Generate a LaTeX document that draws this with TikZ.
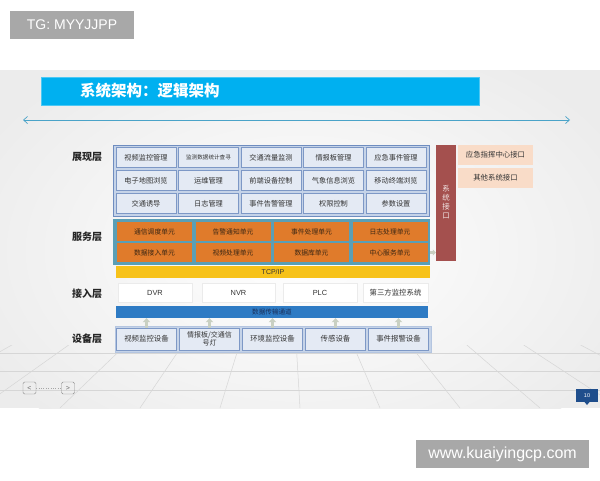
\documentclass[tikz,border=0pt]{standalone}
\usepackage{fontspec}
\setmainfont{Noto Sans CJK SC}
\newfontfamily\lat{Liberation Sans}
\usetikzlibrary{arrows.meta}
\definecolor{wmgray}{HTML}{A8A8A8}
\definecolor{slidebg}{HTML}{ECECEC}
\definecolor{titleblue}{HTML}{00B0F0}
\definecolor{linkblue}{HTML}{4AA3C8}
\definecolor{pframe}{HTML}{C5D3E8}
\definecolor{pframeb}{HTML}{6F8DC0}
\definecolor{pcellf}{HTML}{E4EAF4}
\definecolor{pcellb}{HTML}{7D98C6}
\definecolor{sframe}{HTML}{5A9FB5}
\definecolor{orangec}{HTML}{E07B2B}
\definecolor{stxt}{HTML}{3A2614}
\definecolor{tcpc}{HTML}{F7C21A}
\definecolor{dbar}{HTML}{2E7BC4}
\definecolor{dtxt}{HTML}{1A2F5A}
\definecolor{arrowc}{HTML}{C9D0C2}
\definecolor{redbar}{HTML}{A4504E}
\definecolor{peach}{HTML}{F9DCC8}
\definecolor{txtc}{HTML}{333333}
\definecolor{gridc}{HTML}{D6D6D6}
\definecolor{navy}{HTML}{1F4E8C}
\begin{document}
\begin{tikzpicture}[x=1pt,y=-1pt,
  pcell/.style={draw=pcellb, fill=pcellf, line width=0.7pt, minimum width=60pt, minimum height=19.5pt, inner sep=0pt, font=\fontsize{7.2}{8.5}\selectfont, text=txtc},
  scell/.style={fill=orangec, minimum width=75pt, minimum height=18.5pt, inner sep=0pt, font=\fontsize{6.8}{8}\selectfont, text=stxt},
  acell/.style={fill=white, draw=black!8, line width=0.4pt, minimum height=19pt, inner sep=0pt, font=\fontsize{7.4}{8.5}\selectfont, text=txtc},
  dcell/.style={draw=pcellb, fill=pcellf, line width=0.7pt, minimum width=60pt, minimum height=22pt, inner sep=0pt, font=\fontsize{7.4}{8.5}\selectfont, text=txtc, align=center},
  layer/.style={font=\fontsize{10}{12}\selectfont\bfseries, text=black!85},
  lightarrow/.style={draw=arrowc, line width=3.2pt, -{Triangle[width=7.5pt,length=4pt]}},
  icell/.style={fill=peach, minimum width=75pt, minimum height=20pt, inner sep=0pt, font=\fontsize{7.4}{8.5}\selectfont, text=txtc},
  wmbox/.style={fill=wmgray, text=white, inner sep=0pt},
  navbox/.style={draw=black!45, rounded corners=1.5pt, minimum width=13pt, minimum height=12pt, inner sep=0pt, font=\lat\fontsize{7}{8}\selectfont, text=black!60}
]
\useasboundingbox (0,0) rectangle (600,480);
\fill[white] (0,0) rectangle (600,480);
% slide background
\begin{scope}
  \clip (0,70) rectangle (600,408);
  \fill[slidebg] (0,70) rectangle (600,408);
  \shade[inner color=white, outer color=slidebg] (300,250) ellipse (360 and 230);
\end{scope}
% floor grid
\begin{scope}
  \clip (0,345) rectangle (600,408);
  \foreach \b in {-900,-820,...,1500} \draw[gridc,line width=0.5pt] (287,190) -- (\b,408);
  \foreach \yy in {353,371,390} \draw[gridc,line width=0.6pt] (0,\yy) -- (600,\yy);
\end{scope}
% TG watermark
\node[wmbox, minimum width=124pt, minimum height=28pt, font=\lat\fontsize{14}{16}\selectfont] (tg) at (72,25) {TG: MYYJJPP};
% title bar
\node[fill=titleblue, draw=titleblue!70!white, line width=0.5pt, minimum width=438pt, minimum height=28pt, inner sep=0pt] (title) at (260,91) {};
\node[anchor=west, text=white, font=\fontsize{15.5}{17}\selectfont\bfseries, inner sep=0pt] (titletext) at (80,91) {系统架构：逻辑架构};
% double arrow line
\coordinate (la) at (23,120);
\coordinate (lb) at (570,120);
\draw[linkblue, line width=0.7pt, {Straight Barb[length=4pt,width=7pt]}-{Straight Barb[length=4pt,width=7pt]}] (la) -- (lb);
% layer labels
\node[layer] (L1) at (87,157) {展现层};
\node[layer] (L2) at (87,237) {服务层};
\node[layer] (L3) at (87,294) {接入层};
\node[layer] (L4) at (87,339) {设备层};
% presentation layer
\node[fill=pframe, draw=pframeb, line width=0.8pt, minimum width=316pt, minimum height=71pt, inner sep=0pt] (pf) at (271,180.5) {};
\node[pcell] (p11) at (146,157.5) {视频监控管理};
\node[pcell, font=\fontsize{5.6}{7}\selectfont] (p12) at (208.5,157.5) {监测数据统计查寻};
\node[pcell] (p13) at (271,157.5) {交通流量监测};
\node[pcell] (p14) at (333.5,157.5) {情报板管理};
\node[pcell] (p15) at (396,157.5) {应急事件管理};
\node[pcell] (p21) at (146,180.5) {电子地图浏览};
\node[pcell] (p22) at (208.5,180.5) {运维管理};
\node[pcell] (p23) at (271,180.5) {前端设备控制};
\node[pcell] (p24) at (333.5,180.5) {气象信息浏览};
\node[pcell] (p25) at (396,180.5) {移动终端浏览};
\node[pcell] (p31) at (146,203.5) {交通诱导};
\node[pcell] (p32) at (208.5,203.5) {日志管理};
\node[pcell] (p33) at (271,203.5) {事件告警管理};
\node[pcell] (p34) at (333.5,203.5) {权限控制};
\node[pcell] (p35) at (396,203.5) {参数设置};
% service layer
\node[fill=sframe, minimum width=317pt, minimum height=46pt, inner sep=0pt] (sf) at (271.5,242) {};
\node[scell] (s11) at (154.5,231.5) {通信调度单元};
\node[scell] (s12) at (233,231.5) {告警通知单元};
\node[scell] (s13) at (311.5,231.5) {事件处理单元};
\node[scell] (s14) at (390,231.5) {日志处理单元};
\node[scell] (s21) at (154.5,252.5) {数据接入单元};
\node[scell] (s22) at (233,252.5) {视频处理单元};
\node[scell] (s23) at (311.5,252.5) {数据库单元};
\node[scell] (s24) at (390,252.5) {中心服务单元};
% TCP/IP
\node[fill=tcpc, minimum width=314pt, minimum height=12pt, inner sep=0pt, font=\lat\fontsize{7}{8}\selectfont, text=txtc] (tcp) at (273,272) {TCP/IP};
% access layer
\node[acell, minimum width=74pt, font=\lat\fontsize{7.4}{8.5}\selectfont] (a1) at (155,292.5) {DVR};
\node[acell, minimum width=73pt, font=\lat\fontsize{7.4}{8.5}\selectfont] (a2) at (238.5,292.5) {NVR};
\node[acell, minimum width=74pt, font=\lat\fontsize{7.4}{8.5}\selectfont] (a3) at (320,292.5) {PLC};
\node[acell, minimum width=65pt] (a4) at (395.5,292.5) {第三方监控系统};
% data channel
\node[fill=dbar, minimum width=312pt, minimum height=12pt, inner sep=0pt, font=\fontsize{6.6}{8}\selectfont, text=dtxt] (db) at (272,312) {数据传输通道};
% device layer
\node[fill=pframe, draw=pframe!80!pframeb, line width=0.6pt, minimum width=316pt, minimum height=26pt, inner sep=0pt] (df) at (273,339) {};
\node[dcell] (d1) at (146.5,339) {视频监控设备};
\node[dcell, font=\fontsize{7}{8.2}\selectfont] (d2) at (209.5,339) {情报板/交通信\\号灯};
\node[dcell] (d3) at (272.5,339) {环境监控设备};
\node[dcell] (d4) at (335.5,339) {传感设备};
\node[dcell] (d5) at (398.5,339) {事件报警设备};
\foreach \d in {d1,d2,d3,d4,d5} \draw[lightarrow] (\d.north) -- (\d.north |- db.south);
% system interface
\node[fill=redbar, minimum width=20pt, minimum height=116pt, inner sep=0pt] (ibar) at (446,203) {};
\node[text=white!85!redbar, align=center, font=\fontsize{7.5}{9}\selectfont] (itext) at (446,202) {系\\统\\接\\口};
\node[icell] (i1) at (495.5,155) {应急指挥中心接口};
\node[icell] (i2) at (495.5,178) {其他系统接口};
\draw[lightarrow, line width=2.6pt, -{Triangle[width=6pt,length=3pt]}] (sf.east |- s24) -- (ibar.west |- s24);
% navigation
\node[navbox] (nl) at (29.5,388) {<};
\node[navbox] (nr) at (68,388) {>};
\draw[black!35, dotted, line width=0.4pt] (nl.east) -- (nr.west);
% page number
\node[fill=navy, minimum width=22pt, minimum height=13pt, inner sep=0pt, text=white, font=\lat\fontsize{5.5}{6}\selectfont] (pg) at (587,395.5) {10};
\fill[navy] (584.5,402) -- (589.5,402) -- (587,405) -- cycle;
% bottom watermark
\node[wmbox, minimum width=173pt, minimum height=28pt, font=\lat\fontsize{16}{18}\selectfont] (wm) at (502.5,454) {www.kuaiyingcp.com};
\end{tikzpicture}
\end{document}
